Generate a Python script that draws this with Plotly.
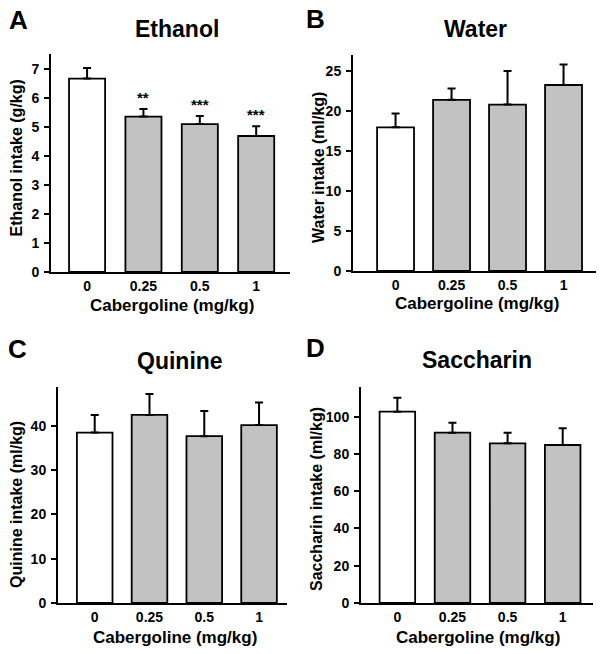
import plotly.graph_objects as go

# ---- data ----
doses = ["0", "0.25", "0.5", "1"]

ethanol_mean = [6.67, 5.36, 5.10, 4.69]
ethanol_sem = [0.36, 0.26, 0.28, 0.34]
ethanol_sig = ["", "**", "***", "***"]

water_mean = [17.96, 21.4, 20.8, 23.25]
water_sem = [1.74, 1.4, 4.2, 2.55]

quinine_mean = [38.5, 42.5, 37.7, 40.2]
quinine_sem = [4.0, 4.7, 5.7, 5.1]

saccharin_mean = [102.7, 91.4, 85.7, 84.8]
saccharin_sem = [7.5, 5.4, 5.7, 9.0]

W, H = 601, 654
FONT = "Liberation Sans, Arial, sans-serif"
GRAY = "#c2c2c2"


def px(x):
    return x / W


def py(y):
    return 1 - y / H


panels = [
    dict(letter="A", title="Ethanol", ytitle="Ethanol intake (g/kg)",
         mean=ethanol_mean, sem=ethanol_sem, sig=ethanol_sig,
         xd=(51, 290), yd=(54, 272), yr=7.517, dt=1, xr=(-0.64, 3.6), bw=0.64,
         lp=(18.5, 20), tp=(177, 29), ytp=(15.5, 158), xtp=(172, 305)),
    dict(letter="B", title="Water", ytitle="Water intake (ml/kg)",
         mean=water_mean, sem=water_sem, sig=None,
         xd=(353, 596), yd=(55, 271), yr=27.0, dt=5, xr=(-0.76, 3.58), bw=0.66,
         lp=(315, 19), tp=(475, 29), ytp=(318, 168), xtp=(477, 304)),
    dict(letter="C", title="Quinine", ytitle="Quinine intake (ml/kg)",
         mean=quinine_mean, sem=quinine_sem, sig=None,
         xd=(58, 287), yd=(387, 603), yr=48.8, dt=10, xr=(-0.67, 3.51), bw=0.65,
         lp=(17.5, 349), tp=(180, 361), ytp=(16, 505), xtp=(175, 637)),
    dict(letter="D", title="Saccharin", ytitle="Saccharin intake (ml/kg)",
         mean=saccharin_mean, sem=saccharin_sem, sig=None,
         xd=(361, 593), yd=(386.5, 603), yr=116.2, dt=20, xr=(-0.66, 3.55), bw=0.645,
         lp=(315, 348), tp=(477, 360), ytp=(316, 499), xtp=(478, 637)),
]

fig = go.Figure()
annotations = []
xpos = list(range(len(doses)))

for i, p in enumerate(panels):
    n = "" if i == 0 else str(i + 1)
    xa, ya = "x" + n, "y" + n
    colors = ["white"] + [GRAY] * (len(doses) - 1)
    fig.add_trace(go.Bar(
        x=xpos, y=p["mean"], xaxis=xa, yaxis=ya, width=p["bw"],
        marker=dict(color=colors, line=dict(color="black", width=1.8)),
        error_y=dict(type="data", array=p["sem"], arrayminus=[0] * len(doses),
                     symmetric=False, color="black", thickness=2, width=4),
        showlegend=False, hoverinfo="skip", cliponaxis=False,
    ))
    axis_common = dict(showline=True, linecolor="black", linewidth=2, showgrid=False,
                       zeroline=False, mirror=False, automargin=False)
    tickfont = dict(family=FONT, size=14, color="black", weight="bold")
    fig.layout["xaxis" + n] = dict(
        domain=[px(p["xd"][0]), px(p["xd"][1])], anchor=ya, range=list(p["xr"]),
        tickmode="array", tickvals=xpos, ticktext=doses, ticks="",
        tickfont=tickfont, ticklabelstandoff=0, fixedrange=True, **axis_common)
    fig.layout["yaxis" + n] = dict(
        domain=[py(p["yd"][1]), py(p["yd"][0])], anchor=xa, range=[0, p["yr"]],
        tick0=0, dtick=p["dt"], ticks="outside", ticklen=5, tickwidth=2, tickcolor="black",
        tickfont=tickfont, ticklabelstandoff=2, fixedrange=True, **axis_common)

    annotations.append(dict(text=p["letter"], xref="paper", yref="paper",
                            x=px(p["lp"][0]), y=py(p["lp"][1]), showarrow=False,
                            xanchor="center", yanchor="middle",
                            font=dict(family=FONT, size=26, color="black", weight="bold")))
    annotations.append(dict(text=p["title"], xref="paper", yref="paper",
                            x=px(p["tp"][0]), y=py(p["tp"][1]), showarrow=False,
                            xanchor="center", yanchor="middle",
                            font=dict(family=FONT, size=23, color="black", weight="bold")))
    annotations.append(dict(text=p["ytitle"], xref="paper", yref="paper",
                            x=px(p["ytp"][0]), y=py(p["ytp"][1]), showarrow=False, textangle=-90,
                            xanchor="center", yanchor="middle",
                            font=dict(family=FONT, size=16, color="black", weight="bold")))
    annotations.append(dict(text="Cabergoline (mg/kg)", xref="paper", yref="paper",
                            x=px(p["xtp"][0]), y=py(p["xtp"][1]), showarrow=False,
                            xanchor="center", yanchor="middle",
                            font=dict(family=FONT, size=17, color="black", weight="bold")))
    if p["sig"]:
        for j, s in enumerate(p["sig"]):
            if s:
                annotations.append(dict(text=s, xref=xa, yref=ya, x=xpos[j],
                                        y=p["mean"][j] + p["sem"][j], showarrow=False,
                                        xanchor="center", yanchor="bottom", yshift=1,
                                        font=dict(family=FONT, size=15, color="black", weight="bold")))

fig.update_layout(template="none", width=W, height=H, margin=dict(l=0, r=0, t=0, b=0),
                  paper_bgcolor="white", plot_bgcolor="white",
                  annotations=annotations, bargap=0, hovermode=False)

fig.write_html("out.html", config={"displayModeBar": False, "staticPlot": True},
               post_script="document.body.style.margin='0px';")
